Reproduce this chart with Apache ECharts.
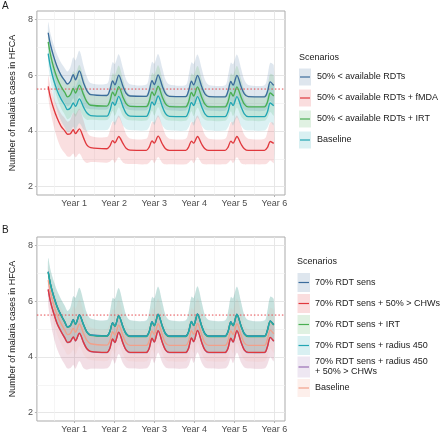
<!DOCTYPE html>
<html><head><meta charset="utf-8">
<script src="https://cdn.jsdelivr.net/npm/echarts@6/dist/echarts.min.js"></script>
<style>html,body{margin:0;padding:0;background:#fff}#c{width:440px;height:434px}</style>
</head><body><div id="c"></div>
<script>
// ---- time (years) ----
const xYears = [0.352,0.407,0.483,0.575,0.671,0.767,0.834,0.906,0.978,1.034,1.130,1.235,1.315,1.411,1.818,1.890,1.962,2.017,2.113,2.219,2.298,2.394,2.802,2.874,2.946,3.001,3.097,3.203,3.282,3.378,3.786,3.858,3.930,3.985,4.081,4.187,4.266,4.362,4.770,4.842,4.914,4.969,5.065,5.171,5.250,5.346,5.754,5.826,5.898,5.985];
const yearTicks = [1,2,3,4,5,6];
const yearLabels = ['Year 1','Year 2','Year 3','Year 4','Year 5','Year 6'];
const yearMinor = [0.5,1.5,2.5,3.5,4.5,5.5];
const yTicks = [2,4,6,8];
const yMinor = [3,5,7];
const threshold = 5.5;

// ---- Panel A ----
const namesA = ['50% < available RDTs','50% < available RDTs + fMDA','50% < available RDTs + IRT','Baseline'];
const aRdt = [7.52,7.1,6.7,6.3,6.0,5.8,5.68,5.78,6.02,5.83,6.15,5.72,5.45,5.3, 5.27,5.46,5.79,5.65,6.0,5.6,5.35,5.25, 5.24,5.44,5.8,5.66,6.01,5.6,5.34,5.24, 5.23,5.43,5.78,5.65,5.99,5.58,5.33,5.23, 5.22,5.42,5.77,5.64,5.99,5.58,5.33,5.23, 5.22,5.4,5.76,5.63];
const aRdtHi = [7.90,7.50,7.12,6.74,6.45,6.25,6.13,6.28,6.64,6.53,6.87,6.34,5.95,5.72, 5.69,6.01,6.47,6.40,6.75,6.25,5.85,5.67, 5.66,5.99,6.48,6.41,6.76,6.25,5.84,5.66, 5.65,5.98,6.46,6.40,6.74,6.23,5.83,5.65, 5.64,5.97,6.45,6.39,6.74,6.23,5.83,5.65, 5.64,5.95,6.44,6.35];
const aRdtLo = [7.17,6.60,6.08,5.58,5.22,5.00,4.88,4.96,5.17,4.98,5.27,4.92,4.80,4.78, 4.77,4.90,5.11,4.93,5.25,4.92,4.79,4.75, 4.74,4.88,5.12,4.94,5.26,4.92,4.78,4.74, 4.73,4.87,5.10,4.93,5.24,4.90,4.77,4.73, 4.72,4.86,5.09,4.92,5.24,4.90,4.77,4.73, 4.72,4.84,5.08,4.93];
const aMda = [5.6,5.2,4.82,4.46,4.17,4.0,3.88,3.9,4.04,3.9,4.07,3.75,3.5,3.4, 3.36,3.45,3.65,3.57,3.8,3.55,3.38,3.31, 3.30,3.42,3.64,3.56,3.81,3.53,3.36,3.30, 3.30,3.42,3.63,3.56,3.80,3.52,3.36,3.30, 3.30,3.41,3.63,3.56,3.80,3.52,3.36,3.30, 3.30,3.40,3.62,3.55];
const aMdaHi = [5.98,5.60,5.24,4.90,4.62,4.45,4.33,4.40,4.66,4.60,4.79,4.37,4.00,3.82, 3.78,4.00,4.33,4.32,4.55,4.20,3.88,3.73, 3.72,3.97,4.32,4.31,4.56,4.18,3.86,3.72, 3.72,3.97,4.31,4.31,4.55,4.17,3.86,3.72, 3.72,3.96,4.31,4.31,4.55,4.17,3.86,3.72, 3.72,3.95,4.30,4.27];
const aMdaLo = [5.25,4.70,4.20,3.74,3.39,3.20,3.08,3.08,3.19,3.05,3.19,2.95,2.85,2.88, 2.86,2.89,2.97,2.85,3.05,2.87,2.82,2.81, 2.80,2.86,2.96,2.84,3.06,2.85,2.80,2.80, 2.80,2.86,2.95,2.84,3.05,2.84,2.80,2.80, 2.80,2.85,2.95,2.84,3.05,2.84,2.80,2.80, 2.80,2.84,2.94,2.85];
const aIrt = [7.19,6.75,6.3,5.9,5.6,5.38,5.22,5.3,5.52,5.36,5.64,5.3,5.05,4.92, 4.89,5.06,5.39,5.26,5.59,5.21,4.98,4.88, 4.87,5.05,5.40,5.27,5.60,5.21,4.97,4.87, 4.86,5.04,5.38,5.25,5.58,5.20,4.96,4.86, 4.86,5.04,5.38,5.25,5.58,5.20,4.96,4.86, 4.86,5.03,5.36,5.25];
const aIrtHi = [7.57,7.15,6.72,6.34,6.05,5.83,5.67,5.80,6.14,6.06,6.36,5.92,5.55,5.34, 5.31,5.61,6.07,6.01,6.34,5.86,5.48,5.30, 5.29,5.60,6.08,6.02,6.35,5.86,5.47,5.29, 5.28,5.59,6.06,6.00,6.33,5.85,5.46,5.28, 5.28,5.59,6.06,6.00,6.33,5.85,5.46,5.28, 5.28,5.58,6.04,5.97];
const aIrtLo = [6.84,6.25,5.68,5.18,4.82,4.58,4.42,4.48,4.67,4.51,4.76,4.50,4.40,4.40, 4.39,4.50,4.71,4.54,4.84,4.53,4.42,4.38, 4.37,4.49,4.72,4.55,4.85,4.53,4.41,4.37, 4.36,4.48,4.70,4.53,4.83,4.52,4.40,4.36, 4.36,4.48,4.70,4.53,4.83,4.52,4.40,4.36, 4.36,4.47,4.68,4.55];
const aBase = [6.77,6.3,5.85,5.45,5.15,4.92,4.76,4.82,5.0,4.88,5.15,4.85,4.65,4.55, 4.53,4.71,5.03,4.92,5.24,4.87,4.63,4.53, 4.52,4.70,5.04,4.93,5.25,4.87,4.62,4.52, 4.51,4.69,5.02,4.91,5.23,4.86,4.61,4.51, 4.51,4.69,5.02,4.91,5.23,4.86,4.61,4.51, 4.51,4.68,5.0,4.9];
const aBaseHi = [7.15,6.70,6.27,5.89,5.60,5.37,5.21,5.32,5.62,5.58,5.87,5.47,5.15,4.97, 4.95,5.26,5.71,5.67,5.99,5.52,5.13,4.95, 4.94,5.25,5.72,5.68,6.00,5.52,5.12,4.94, 4.93,5.24,5.70,5.66,5.98,5.51,5.11,4.93, 4.93,5.24,5.70,5.66,5.98,5.51,5.11,4.93, 4.93,5.23,5.68,5.62];
const aBaseLo = [6.42,5.80,5.23,4.73,4.37,4.12,3.96,4.00,4.15,4.03,4.27,4.05,4.00,4.03, 4.03,4.15,4.35,4.20,4.49,4.19,4.07,4.03, 4.02,4.14,4.36,4.21,4.50,4.19,4.06,4.02, 4.01,4.13,4.34,4.19,4.48,4.18,4.05,4.01, 4.01,4.13,4.34,4.19,4.48,4.18,4.05,4.01, 4.01,4.12,4.32,4.20];

// ---- Panel B ----
const namesB = ['70% RDT sens','70% RDT sens + 50% > CHWs','70% RDT sens + IRT','70% RDT sens + radius 450','70% RDT sens + radius 450\n+ 50% > CHWs','Baseline'];
const bRdt = [7.06,6.63,6.21,5.81,5.51,5.26,5.08,5.13,5.34,5.18,5.51,5.16,4.91,4.79, 4.76,4.91,5.23,5.11,5.48,5.09,4.84,4.75, 4.75,4.91,5.26,5.13,5.53,5.11,4.84,4.75, 4.75,4.91,5.27,5.14,5.54,5.11,4.84,4.75, 4.75,4.91,5.26,5.13,5.53,5.11,4.84,4.75, 4.75,4.96,5.29,5.16];
const bRdtHi = [7.55,7.14,6.75,6.37,6.08,5.83,5.65,5.77,6.18,6.12,6.48,6.00,5.58,5.38, 5.32,5.60,6.12,6.08,6.47,5.93,5.50,5.32, 5.31,5.60,6.15,6.10,6.52,5.95,5.50,5.32, 5.31,5.60,6.16,6.11,6.53,5.95,5.50,5.32, 5.31,5.60,6.15,6.10,6.52,5.95,5.50,5.32, 5.31,5.65,6.16,6.07];
const bRdtLo = [6.75,6.22,5.72,5.27,4.94,4.67,4.49,4.54,4.73,4.57,4.88,4.55,4.32,4.20, 4.17,4.32,4.62,4.50,4.85,4.48,4.25,4.16, 4.16,4.32,4.65,4.52,4.90,4.50,4.25,4.16, 4.16,4.32,4.66,4.53,4.91,4.50,4.25,4.16, 4.16,4.32,4.65,4.52,4.90,4.50,4.25,4.16, 4.16,4.37,4.68,4.55];
const bIrt = [7.04,6.61,6.19,5.79,5.49,5.24,5.06,5.11,5.32,5.16,5.49,5.14,4.89,4.77, 4.74,4.89,5.21,5.09,5.46,5.07,4.82,4.73, 4.73,4.89,5.24,5.11,5.51,5.09,4.82,4.73, 4.73,4.89,5.25,5.12,5.52,5.09,4.82,4.73, 4.73,4.89,5.24,5.11,5.51,5.09,4.82,4.73, 4.73,4.94,5.27,5.14];
const bIrtHi = [7.54,7.13,6.74,6.36,6.07,5.82,5.64,5.76,6.17,6.11,6.47,5.99,5.57,5.37, 5.31,5.59,6.11,6.07,6.46,5.92,5.49,5.31, 5.30,5.59,6.14,6.09,6.51,5.94,5.49,5.31, 5.30,5.59,6.15,6.10,6.52,5.94,5.49,5.31, 5.30,5.59,6.14,6.09,6.51,5.94,5.49,5.31, 5.30,5.64,6.15,6.06];
const bIrtLo = [6.74,6.21,5.71,5.26,4.93,4.66,4.48,4.53,4.72,4.56,4.87,4.54,4.31,4.19, 4.16,4.31,4.61,4.49,4.84,4.47,4.24,4.15, 4.15,4.31,4.64,4.51,4.89,4.49,4.24,4.15, 4.15,4.31,4.65,4.52,4.90,4.49,4.24,4.15, 4.15,4.31,4.64,4.51,4.89,4.49,4.24,4.15, 4.15,4.36,4.67,4.54];
const bRad = [7.05,6.62,6.2,5.8,5.5,5.25,5.07,5.12,5.33,5.17,5.5,5.15,4.9,4.78, 4.75,4.9,5.22,5.1,5.47,5.08,4.83,4.74, 4.74,4.9,5.25,5.12,5.52,5.1,4.83,4.74, 4.74,4.9,5.26,5.13,5.53,5.1,4.83,4.74, 4.74,4.9,5.25,5.12,5.52,5.1,4.83,4.74, 4.74,4.95,5.28,5.15];
const bRadHi = [7.55,7.14,6.75,6.37,6.08,5.83,5.65,5.77,6.18,6.12,6.48,6.00,5.58,5.38, 5.32,5.60,6.12,6.08,6.47,5.93,5.50,5.32, 5.31,5.60,6.15,6.10,6.52,5.95,5.50,5.32, 5.31,5.60,6.16,6.11,6.53,5.95,5.50,5.32, 5.31,5.60,6.15,6.10,6.52,5.95,5.50,5.32, 5.31,5.65,6.16,6.07];
const bRadLo = [6.75,6.22,5.72,5.27,4.94,4.67,4.49,4.54,4.73,4.57,4.88,4.55,4.32,4.20, 4.17,4.32,4.62,4.50,4.85,4.48,4.25,4.16, 4.16,4.32,4.65,4.52,4.90,4.50,4.25,4.16, 4.16,4.32,4.66,4.53,4.91,4.50,4.25,4.16, 4.16,4.32,4.65,4.52,4.90,4.50,4.25,4.16, 4.16,4.37,4.68,4.55];
const bChw = [6.42,6.0,5.6,5.2,4.92,4.68,4.52,4.55,4.72,4.58,4.85,4.52,4.3,4.2, 4.16,4.3,4.64,4.52,4.89,4.5,4.25,4.16, 4.16,4.31,4.67,4.54,4.94,4.52,4.25,4.16, 4.16,4.31,4.68,4.55,4.95,4.52,4.25,4.16, 4.16,4.31,4.67,4.54,4.94,4.52,4.25,4.16, 4.16,4.36,4.7,4.57];
const bChwHi = [6.77,6.45,6.10,5.75,5.48,5.25,5.10,5.13,5.32,5.18,5.47,5.12,4.88,4.78, 4.74,4.88,5.24,5.12,5.51,5.10,4.83,4.74, 4.74,4.89,5.27,5.14,5.56,5.12,4.83,4.74, 4.74,4.89,5.28,5.15,5.57,5.12,4.83,4.74, 4.74,4.89,5.27,5.14,5.56,5.12,4.83,4.74, 4.74,4.94,5.30,5.17];
const bChwLo = [5.92,5.30,4.75,4.28,3.97,3.73,3.59,3.60,3.72,3.58,3.85,3.60,3.55,3.58, 3.59,3.68,3.92,3.76,4.11,3.78,3.63,3.59, 3.59,3.69,3.95,3.78,4.16,3.80,3.63,3.59, 3.59,3.69,3.96,3.79,4.17,3.80,3.63,3.59, 3.59,3.69,3.95,3.78,4.16,3.80,3.63,3.59, 3.59,3.74,4.00,3.85];
const bRadChw = [6.41,5.99,5.59,5.19,4.91,4.67,4.51,4.54,4.71,4.57,4.84,4.51,4.29,4.19, 4.15,4.29,4.63,4.51,4.88,4.49,4.24,4.15, 4.15,4.30,4.66,4.53,4.93,4.51,4.24,4.15, 4.15,4.30,4.67,4.54,4.94,4.51,4.24,4.15, 4.15,4.30,4.66,4.53,4.93,4.51,4.24,4.15, 4.15,4.35,4.69,4.56];
const bRadChwHi = [6.76,6.44,6.09,5.74,5.47,5.24,5.09,5.12,5.31,5.17,5.46,5.11,4.87,4.77, 4.73,4.87,5.23,5.11,5.50,5.09,4.82,4.73, 4.73,4.88,5.26,5.13,5.55,5.11,4.82,4.73, 4.73,4.88,5.27,5.14,5.56,5.11,4.82,4.73, 4.73,4.88,5.26,5.13,5.55,5.11,4.82,4.73, 4.73,4.93,5.29,5.16];
const bRadChwLo = [5.91,5.29,4.74,4.27,3.96,3.72,3.58,3.59,3.71,3.57,3.84,3.59,3.54,3.57, 3.58,3.67,3.91,3.75,4.10,3.77,3.62,3.58, 3.58,3.68,3.94,3.77,4.15,3.79,3.62,3.58, 3.58,3.68,3.95,3.78,4.16,3.79,3.62,3.58, 3.58,3.68,3.94,3.77,4.15,3.79,3.62,3.58, 3.58,3.73,3.99,3.84];
const bBase = [6.75,6.32,5.9,5.5,5.2,4.96,4.8,4.84,5.03,4.88,5.18,4.84,4.6,4.47, 4.42,4.56,4.9,4.78,5.14,4.76,4.5,4.41, 4.41,4.57,4.93,4.8,5.19,4.78,4.5,4.41, 4.41,4.57,4.94,4.81,5.2,4.78,4.5,4.41, 4.41,4.57,4.93,4.8,5.19,4.78,4.5,4.41, 4.41,4.62,4.96,4.83];
const bBaseHi = [7.20,6.82,6.42,6.05,5.76,5.53,5.38,5.46,5.81,5.73,6.06,5.62,5.24,5.05, 4.99,5.22,5.72,5.66,6.04,5.54,5.14,4.98, 4.98,5.23,5.75,5.68,6.09,5.56,5.14,4.98, 4.98,5.23,5.76,5.69,6.10,5.56,5.14,4.98, 4.98,5.23,5.75,5.68,6.09,5.56,5.14,4.98, 4.98,5.28,5.76,5.67];
const bBaseLo = [6.35,5.77,5.25,4.80,4.48,4.24,4.08,4.12,4.25,4.08,4.38,4.09,3.94,3.89, 3.85,3.96,4.24,4.10,4.44,4.10,3.90,3.84, 3.84,3.97,4.27,4.12,4.49,4.12,3.90,3.84, 3.84,3.97,4.28,4.13,4.50,4.12,3.90,3.84, 3.84,3.97,4.27,4.12,4.49,4.12,3.90,3.84, 3.84,4.02,4.30,4.15];

// ---- styling ----
const FONT = '"Liberation Sans", Arial, sans-serif';
const colA = ['#3b6c9c','#e0383d','#4aae52','#22a6b3'];
const colB = ['#3b6c9c','#e0383d','#4aae52','#22a6b3','#9a70b4','#f2a08a'];
const ALPHA_A = 0.16, ALPHA_B = 0.1, ALPHA_KEY = 0.17;
const SMOOTH = 0.3;
function rgba(hex,a){const n=parseInt(hex.slice(1),16);return 'rgba('+(n>>16)+','+((n>>8)&255)+','+(n&255)+','+a+')';}
function mix(hex,a){const n=parseInt(hex.slice(1),16);const f=c=>Math.round(255*(1-a)+c*a);return 'rgb('+f(n>>16)+','+f((n>>8)&255)+','+f(n&255)+')';}

const X_MIN=0.07, X_MAX=6.266, Y_MIN=1.7, Y_MAX=8.3;
const grids=[{left:27,top:11,width:258,height:184},{left:27,top:237,width:258,height:184}];

const xAxes=[], yAxes=[];
grids.forEach((g,gi)=>{
  xAxes.push({type:'value',gridIndex:gi,min:X_MIN,max:X_MAX,position:'bottom',
    axisLine:{show:false},
    axisTick:{show:true,customValues:yearTicks,length:2,lineStyle:{color:'#b3b3b3'}},
    axisLabel:{customValues:yearTicks,formatter:v=>yearLabels[yearTicks.indexOf(Math.round(v))]||'',color:'#4d4d4d',fontSize:9,fontFamily:FONT,margin:4},
    splitLine:{show:true,lineStyle:{color:'#e4e4e4',width:0.9}}, z:0});
  xAxes.push({type:'value',gridIndex:gi,min:X_MIN,max:X_MAX,position:'top',
    axisLine:{show:false},axisTick:{show:false,customValues:yearMinor},
    axisLabel:{show:false,customValues:yearMinor},
    splitLine:{show:true,lineStyle:{color:'#f1f1f1',width:0.7}}, z:0});
  yAxes.push({type:'value',gridIndex:gi,min:Y_MIN,max:Y_MAX,position:'left',
    axisLine:{show:false},
    axisTick:{show:true,customValues:yTicks,length:2,lineStyle:{color:'#b3b3b3'}},
    axisLabel:{customValues:yTicks,color:'#4d4d4d',fontSize:9,fontFamily:FONT,margin:4},
    splitLine:{show:true,lineStyle:{color:'#e4e4e4',width:0.9}},
    name:'Number of malaria cases in HFCA',nameLocation:'middle',nameGap:11,
    nameTextStyle:{color:'#1a1a1a',fontSize:9,fontFamily:FONT}, z:0});
  yAxes.push({type:'value',gridIndex:gi,min:Y_MIN,max:Y_MAX,position:'right',
    axisLine:{show:false},axisTick:{show:false,customValues:yMinor},
    axisLabel:{show:false,customValues:yMinor},
    splitLine:{show:true,lineStyle:{color:'#f1f1f1',width:0.7}}, z:0});
});

const pairs = arr => xYears.map((x,i)=>[x,arr[i]]);
const bandSeries=[], lineSeries=[];
function addBand(gi,lo,hi,color,alpha){
  bandSeries.push({type:'custom',xAxisIndex:gi*2,yAxisIndex:gi*2,silent:true,clip:true,
    data:xYears.map((x,i)=>[x,lo[i],hi[i]]),
    encode:{x:0,y:[1,2]},
    renderItem:(params,api)=>{
      if(params.dataIndex!==0) return null;
      const top=xYears.map((x,i)=>api.coord([x,hi[i]]));
      const bot=xYears.map((x,i)=>api.coord([x,lo[i]])).reverse();
      return {type:'polygon',shape:{points:top.concat(bot),smooth:SMOOTH},style:{fill:rgba(color,alpha),stroke:null,lineWidth:0}};
    }});
}
function addLine(gi,name,vals,color){
  lineSeries.push({type:'line',name:name,xAxisIndex:gi*2,yAxisIndex:gi*2,data:pairs(vals),symbol:'none',smooth:SMOOTH,
    lineStyle:{color:color,width:1.35},itemStyle:{color:color},silent:true});
}
function addRef(gi){
  lineSeries.push({type:'line',xAxisIndex:gi*2,yAxisIndex:gi*2,data:[[X_MIN,threshold],[X_MAX,threshold]],symbol:'none',
    lineStyle:{color:'#e5484d',width:1,type:[1.5,2]},itemStyle:{color:'#e5484d'},silent:true,z:3});
}

// Panel A
const linesA=[aRdt,aMda,aIrt,aBase], hisA=[aRdtHi,aMdaHi,aIrtHi,aBaseHi], losA=[aRdtLo,aMdaLo,aIrtLo,aBaseLo];
linesA.forEach((v,i)=>addBand(0,losA[i],hisA[i],colA[i],ALPHA_A));
addRef(0);
linesA.forEach((v,i)=>addLine(0,namesA[i],v,colA[i]));
// Panel B
const linesB=[bRdt,bChw,bIrt,bRad,bRadChw,bBase], hisB=[bRdtHi,bChwHi,bIrtHi,bRadHi,bRadChwHi,bBaseHi], losB=[bRdtLo,bChwLo,bIrtLo,bRadLo,bRadChwLo,bBaseLo];
linesB.forEach((v,i)=>addBand(1,losB[i],hisB[i],colB[i],ALPHA_B));
addRef(1);
const orderB=[5,4,1,0,2,3];
orderB.forEach(i=>addLine(1,namesB[i],linesB[i],colB[i]));

// legends via graphic
const gfx=[];
function legend(title,tx,ty,items,boxX,textX,boxW){
  gfx.push({type:'text',left:tx,top:ty-6,style:{text:title,fill:'#1a1a1a',font:'9px '+FONT}});
  items.forEach(it=>{
    gfx.push({type:'rect',shape:{x:boxX,y:it.cy-it.h/2,width:boxW,height:it.h},style:{fill:mix(it.color,ALPHA_KEY)}});
    gfx.push({type:'line',shape:{x1:boxX+1,y1:it.cy,x2:boxX+boxW-1,y2:it.cy},style:{stroke:it.color,lineWidth:1.2}});
    gfx.push({type:'text',x:textX,y:it.cy,style:{text:it.text,fill:'#1a1a1a',font:'9px '+FONT,verticalAlign:'middle',lineHeight:10}});
  });
}
legend('Scenarios',299,59,[77,98,119,140].map((cy,i)=>({cy:cy,h:17,color:colA[i],text:namesA[i]})),299,317,12);
const cyB=[282.5,303.5,324.5,345.5,367,388];
const hB=[19,19,19,19,21,18];
legend('Scenarios',297,263,cyB.map((cy,i)=>({cy:cy,h:hB[i],color:colB[i],text:namesB[i]})),297.5,315,12.5);
gfx.push({type:'text',left:2,top:1,style:{text:'A',fill:'#1a1a1a',font:'10px '+FONT}});
gfx.push({type:'text',left:2,top:225,style:{text:'B',fill:'#1a1a1a',font:'10px '+FONT}});

const chart=echarts.init(document.getElementById('c'),null,{renderer:'canvas'});
chart.setOption({
  animation:false,
  backgroundColor:'#ffffff',
  grid:grids.map(g=>Object.assign({show:true,borderColor:'#ababab',borderWidth:1,backgroundColor:'transparent'},g)),
  xAxis:xAxes, yAxis:yAxes,
  series:bandSeries.concat(lineSeries),
  graphic:gfx
});
</script></body></html>
